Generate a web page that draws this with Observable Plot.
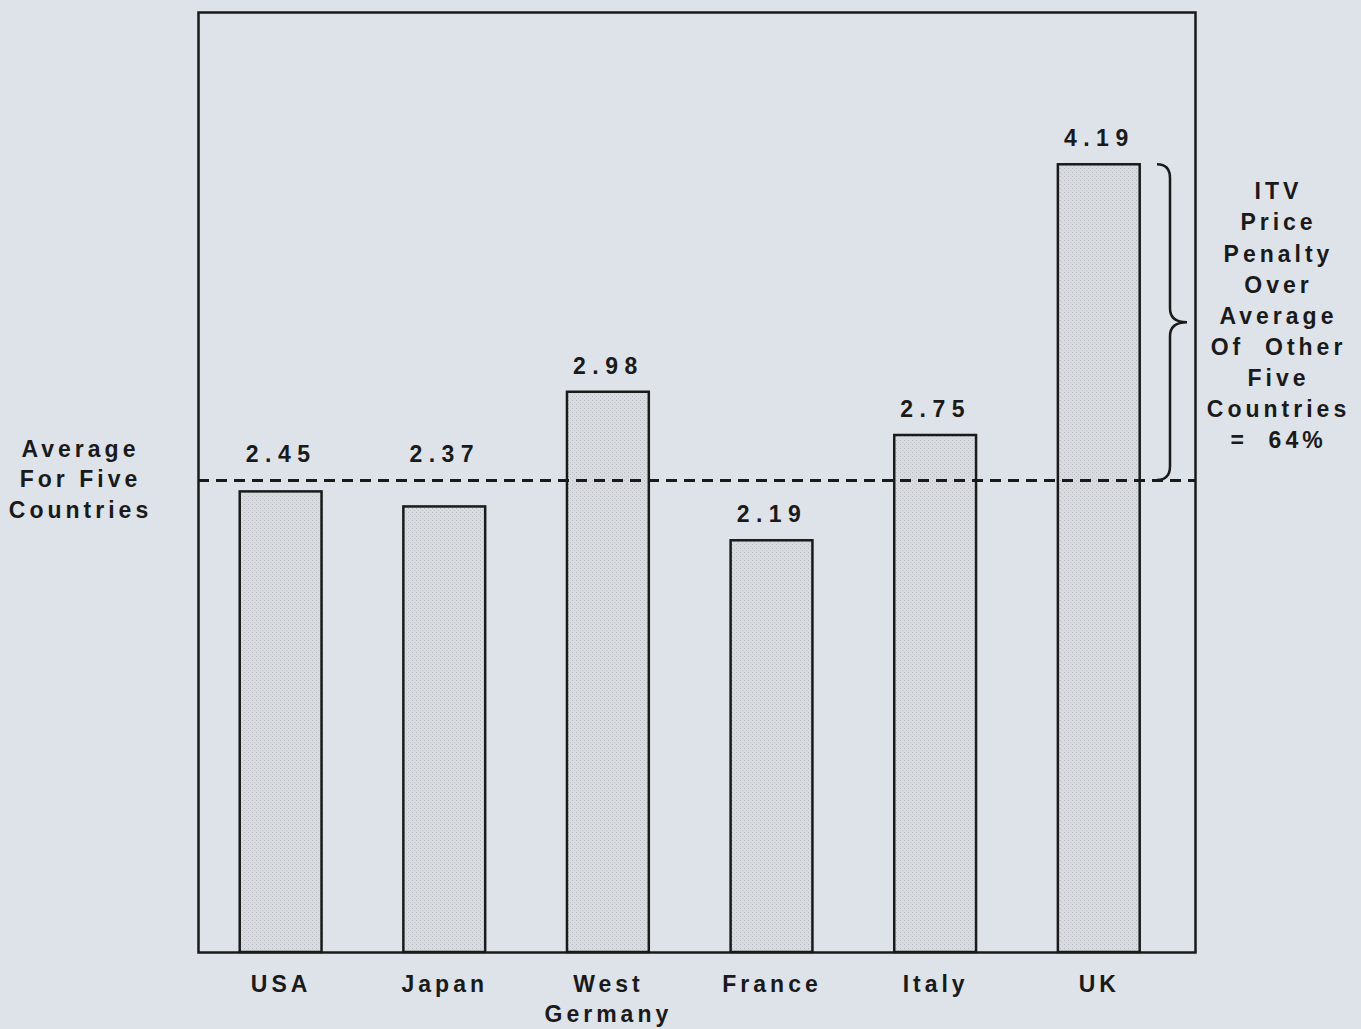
<!DOCTYPE html>
<html>
<head>
<meta charset="utf-8">
<script src="https://cdn.jsdelivr.net/npm/d3@7"></script>
<script src="https://cdn.jsdelivr.net/npm/@observablehq/plot@0.6"></script>
<style>
  html, body { margin: 0; padding: 0; background: #dee3e9; }
  #chart svg { display: block; }
  #chart text { letter-spacing: 4px; }
  #chart text.value-label { letter-spacing: 6.5px; }
</style>
</head>
<body>
<div id="chart"></div>
<script>
const countries = ["USA", "Japan", "West Germany", "France", "Italy", "UK"];
const tickLabels = ["USA", "Japan", "West\nGermany", "France", "Italy", "UK"];
const values = [2.45, 2.37, 2.98, 2.19, 2.75, 4.19];
const averageFive = 2.51;
const leftNote = "Average\nFor Five\nCountries";
const rightNote = "ITV\nPrice\nPenalty\nOver\nAverage\nOf  Other\nFive\nCountries\n=  64%";

const data = countries.map((c, i) => ({country: c, value: values[i]}));
const ukValue = values[countries.indexOf("UK")];
// labels of bars just under the average line are lifted above the dashed line
const labelY = d => (d.value < averageFive && averageFive - d.value < 0.2) ? averageFive : d.value;

const defs = () => {
  const svg = d3.create("svg:defs");
  const p = svg.append("pattern").attr("id", "stipple").attr("patternUnits", "userSpaceOnUse")
    .attr("width", 4).attr("height", 4);
  p.append("rect").attr("width", 4).attr("height", 4).attr("fill", "#d8dce1");
  p.append("rect").attr("x", 0).attr("y", 0).attr("width", 1).attr("height", 1).attr("fill", "#b7bbc1");
  p.append("rect").attr("x", 2).attr("y", 2).attr("width", 1).attr("height", 1).attr("fill", "#c2c6cb");
  return svg.node();
};

const brace = (index, scales, values, dimensions) => {
  const y1 = scales.y(ukValue), y2 = scales.y(averageFive), m = (y1 + y2) / 2;
  const right = dimensions.width - dimensions.marginRight;
  const x0 = right - 38, x1 = right - 25, x2 = right - 8, r = 14;
  const path = `M${x0},${y1} Q${x1},${y1} ${x1},${y1 + r} L${x1},${m - r} Q${x1},${m} ${x2},${m} Q${x1},${m} ${x1},${m + r} L${x1},${y2 - r} Q${x1},${y2} ${x0},${y2}`;
  return d3.create("svg:path").attr("d", path).attr("fill", "none").attr("stroke", "#1a1a1a")
    .attr("stroke-width", 2.5).node();
};

const chart = Plot.plot({
  width: 1361,
  height: 1029,
  marginLeft: 198,
  marginRight: 166,
  marginTop: 12,
  marginBottom: 77,
  style: {background: "#dee3e9", fontFamily: "'Liberation Sans', Arial, sans-serif", color: "#1a1a1a"},
  x: {domain: countries, paddingInner: 0.5, paddingOuter: 0.2965, align: 0.43, round: false, label: null},
  y: {domain: [0, 5], axis: null},
  marks: [
    defs,
    Plot.barY(data, {x: "country", y: "value", fill: "url(#stipple)", stroke: "#1a1a1a", strokeWidth: 2.5}),
    Plot.ruleY([averageFive], {stroke: "#1a1a1a", strokeWidth: 3, strokeDasharray: "11,7"}),
    Plot.frame({stroke: "#1a1a1a", strokeWidth: 2.5}),
    Plot.text(data, {x: "country", y: labelY, text: d => d.value.toFixed(2), dy: -26,
      fontSize: 23, fontWeight: "bold", fill: "#1a1a1a", ariaLabel: "values"}),
    Plot.axisX({tickSize: 0, tickPadding: 18, fontSize: 23, fontWeight: "bold", lineHeight: 1.3,
      tickFormat: d => tickLabels[countries.indexOf(d)], fill: "#1a1a1a"}),
    Plot.text([leftNote], {frameAnchor: "left", y: [averageFive], dx: -118, dy: -3, textAnchor: "middle",
      fontSize: 23, fontWeight: "bold", lineHeight: 1.32, fill: "#1a1a1a"}),
    Plot.text([rightNote], {frameAnchor: "right", y: [(ukValue + averageFive) / 2], dx: 83, dy: -9,
      textAnchor: "middle", fontSize: 23, fontWeight: "bold", lineHeight: 1.35, fill: "#1a1a1a"}),
    brace
  ]
});
document.getElementById("chart").append(chart);
const labelSet = new Set(values.map(v => v.toFixed(2)));
d3.select(chart).selectAll("text").each(function() {
  if (labelSet.has(this.textContent.trim())) {
    this.classList.add("value-label");
    this.style.letterSpacing = "6.5px";
  }
});
</script>
</body>
</html>
